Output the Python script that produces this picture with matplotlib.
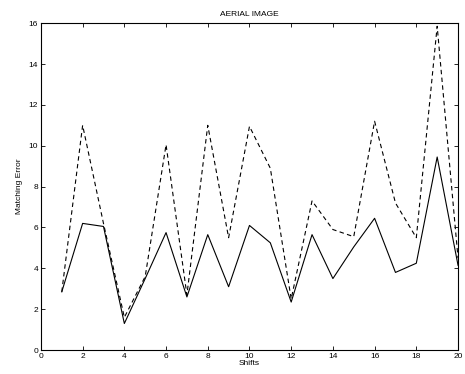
import matplotlib
matplotlib.use("Agg")
import matplotlib.pyplot as plt

plt.rcParams['font.family'] = ['Liberation Sans', 'DejaVu Sans']

shifts = list(range(1, 21))
err_solid = [2.85, 6.2, 6.05, 1.3, 3.5, 5.75, 2.6, 5.65, 3.1, 6.1,
             5.25, 2.35, 5.65, 3.5, 5.05, 6.45, 3.8, 4.25, 9.45, 4.15]
err_dashed = [2.85, 11.0, 6.2, 1.6, 3.6, 10.05, 2.7, 11.0, 5.5, 10.95,
              8.9, 2.5, 7.3, 5.9, 5.55, 11.2, 7.2, 5.5, 15.85, 4.5]

fig = plt.figure(figsize=(4.65, 3.74), dpi=100)
ax = fig.add_axes([0.088, 0.064, 0.897, 0.874])

ax.plot(shifts, err_solid, color='black', linewidth=0.8)
ax.plot(shifts, err_dashed, color='black', linewidth=0.8, linestyle=(0, (4, 3)))

ax.set_xlim(0, 20)
ax.set_ylim(0, 16)
ax.set_xticks(range(0, 21, 2))
ax.set_yticks(range(0, 17, 2))
ax.tick_params(direction='in', top=True, right=True, labelsize=6, length=3, width=0.6, pad=2)
for s in ax.spines.values():
    s.set_linewidth(0.8)

ax.set_title('AERIAL IMAGE', fontsize=6, pad=5)
ax.set_xlabel('Shifts', fontsize=6, labelpad=0)
ax.set_ylabel('Matching Error', fontsize=6, labelpad=4)

fig.savefig('out.png', dpi=100)
